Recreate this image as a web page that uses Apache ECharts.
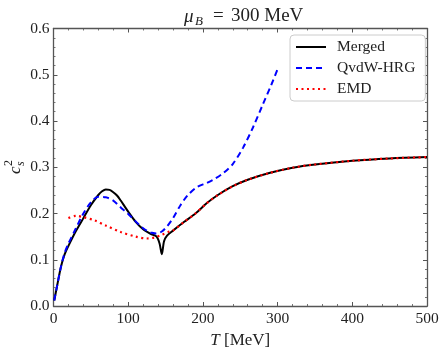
<!DOCTYPE html>
<html>
<head>
<meta charset="utf-8">
<script src="https://cdn.jsdelivr.net/npm/echarts@6/dist/echarts.min.js"></script>
<style>
  html, body { margin: 0; padding: 0; background: #fff; }
  #chart { width: 448px; height: 354px; }
</style>
</head>
<body>
<div id="chart"></div>
<script>
// T in MeV, c_s^2
const tMerged = [1, 5, 10, 15, 20, 30, 40, 50, 60, 65, 70, 75, 80, 85, 90, 95, 100, 110, 120, 130, 138, 142, 145, 148, 152, 160, 175, 190, 205, 220, 240, 260, 290, 320, 350, 400, 450, 500];
const csMerged = [0.012, 0.045, 0.085, 0.112, 0.13, 0.162, 0.19, 0.218, 0.24, 0.248, 0.252, 0.251, 0.246, 0.239, 0.228, 0.216, 0.204, 0.182, 0.166, 0.156, 0.15, 0.135, 0.112, 0.14, 0.152, 0.163, 0.182, 0.2, 0.222, 0.24, 0.259, 0.273, 0.288, 0.299, 0.306, 0.314, 0.319, 0.322];

const tQvdw = [1, 5, 10, 15, 20, 30, 40, 50, 60, 70, 80, 90, 100, 110, 120, 130, 138, 145, 152, 160, 170, 180, 192, 205, 215, 227, 240, 254, 267, 280, 292, 300];
const csQvdw = [0.012, 0.045, 0.085, 0.115, 0.135, 0.168, 0.2, 0.224, 0.236, 0.235, 0.228, 0.213, 0.199, 0.183, 0.168, 0.159, 0.157, 0.161, 0.172, 0.19, 0.218, 0.24, 0.257, 0.266, 0.274, 0.287, 0.307, 0.343, 0.386, 0.435, 0.48, 0.512];

const tEmd = [20, 30, 40, 55, 70, 90, 110, 125, 135, 145, 155, 160, 175, 190, 205, 220, 240, 260, 290, 320, 350, 400, 450, 500];
const csEmd = [0.19, 0.195, 0.192, 0.185, 0.174, 0.16, 0.15, 0.146, 0.148, 0.154, 0.161, 0.163, 0.182, 0.2, 0.222, 0.24, 0.259, 0.273, 0.288, 0.299, 0.306, 0.314, 0.319, 0.322];

const xTicks = [0, 100, 200, 300, 400, 500];
const yTicks = [0.0, 0.1, 0.2, 0.3, 0.4, 0.5, 0.6];

function pairs(xs, ys) {
  return xs.map((x, i) => [x, ys[i]]);
}

const serif = "'Liberation Serif', 'DejaVu Serif', serif";
const axisColor = "#555";

function frameAxis(pos, isX, showLabel) {
  let ax = {
    type: "value",
    position: pos,
    min: isX ? xTicks[0] : yTicks[0],
    max: isX ? xTicks[xTicks.length - 1] : yTicks[yTicks.length - 1],
    interval: isX ? 100 : 0.1,
    axisLine: { show: true, onZero: false, lineStyle: { color: axisColor, width: 1.3 } },
    axisTick: { show: true, inside: true, length: 4, lineStyle: { color: axisColor, width: 1 } },
    minorTick: { show: true, splitNumber: 5, length: 2, lineStyle: { color: axisColor, width: 0.8 } },
    splitLine: { show: false },
    axisLabel: {
      show: showLabel,
      fontFamily: serif,
      fontSize: 15.5,
      color: "#222",
      margin: isX ? 5 : 4,
      formatter: isX ? (v) => String(v) : (v) => v.toFixed(1),
    },
  };
  return ax;
}

let xBottom = frameAxis("bottom", true, true);
xBottom.name = "{i|T} [MeV]";
xBottom.nameLocation = "middle";
xBottom.nameGap = 22;
xBottom.nameTextStyle = {
  fontFamily: serif, fontSize: 17, color: "#222",
  rich: { i: { fontFamily: serif, fontStyle: "italic", fontSize: 17, color: "#222" } },
};

const chart = echarts.init(document.getElementById("chart"));
chart.setOption({
  animation: false,
  backgroundColor: "#fff",
  grid: { left: 53.5, right: 21, top: 28.5, bottom: 48 },
  xAxis: [xBottom, frameAxis("top", true, false)],
  yAxis: [frameAxis("left", false, true), frameAxis("right", false, false)],
  legend: {
    orient: "vertical",
    left: 290,
    top: 35,
    padding: [4, 10, 4, 5],
    itemWidth: 30,
    itemHeight: 12,
    itemGap: 5,
    borderColor: "#ccc",
    borderWidth: 1,
    borderRadius: 4,
    backgroundColor: "rgba(255,255,255,0.85)",
    itemStyle: { opacity: 0 },
    textStyle: { fontFamily: serif, fontSize: 15.5, lineHeight: 16, color: "#222", padding: [0, 0, 0, 6] },
    data: ["Merged", "QvdW-HRG", "EMD"],
  },
  graphic: [
    {
      type: "group",
      x: 180,
      y: 7,
      children: [
        { type: "text", x: 4, y: 0, style: { text: "μ", font: "italic 19px " + serif, fill: "#222" } },
        { type: "text", x: 15, y: 8, style: { text: "B", font: "italic 13px " + serif, fill: "#222" } },
        { type: "text", x: 33, y: 0, style: { text: "=", font: "19px " + serif, fill: "#222" } },
        { type: "text", x: 51, y: 0, style: { text: "300 MeV", font: "19px " + serif, fill: "#222" } },
      ],
    },
    {
      type: "group",
      x: 7,
      y: 174,
      rotation: Math.PI / 2,
      children: [
        { type: "text", x: 0, y: 0, style: { text: "c", font: "italic 17px " + serif, fill: "#222" } },
        { type: "text", x: 8, y: 8, style: { text: "s", font: "italic 12px " + serif, fill: "#222" } },
        { type: "text", x: 8, y: -4, style: { text: "2", font: "12px " + serif, fill: "#222" } },
      ],
    },
  ],
  series: [
    {
      name: "Merged",
      type: "line",
      data: pairs(tMerged, csMerged),
      smooth: 0.3,
      symbol: "none",
      lineStyle: { color: "#000", width: 2 },
      itemStyle: { color: "#000" },
      z: 2,
    },
    {
      name: "QvdW-HRG",
      type: "line",
      data: pairs(tQvdw, csQvdw),
      smooth: 0.3,
      symbol: "none",
      lineStyle: { color: "#0000ff", width: 2, type: [6, 4] },
      itemStyle: { color: "#0000ff" },
      z: 3,
    },
    {
      name: "EMD",
      type: "line",
      data: pairs(tEmd, csEmd),
      smooth: 0.3,
      symbol: "none",
      lineStyle: { color: "#ff0000", width: 2.2, type: [2, 3.5] },
      itemStyle: { color: "#ff0000" },
      z: 4,
    },
  ],
});
</script>
</body>
</html>
